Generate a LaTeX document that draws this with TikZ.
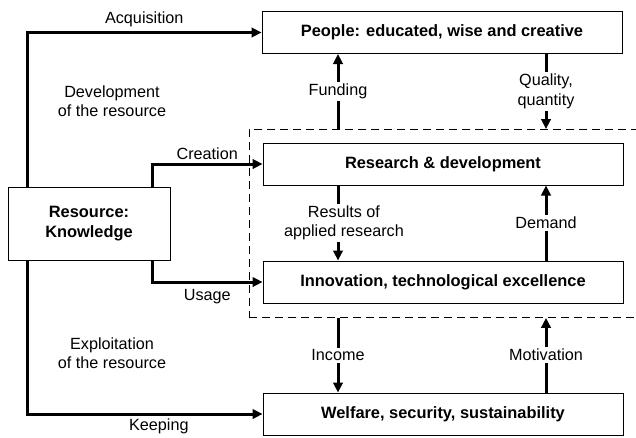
\documentclass[tikz,border=0pt]{standalone}
\usepackage{fontspec}
\setmainfont{Liberation Sans}
\usetikzlibrary{positioning, arrows.meta, calc}

\begin{document}
\begin{tikzpicture}[
    x=1pt, y=-1pt, % work in points, y pointing down
    every node/.style={font=\fontsize{16.2}{19.5}\selectfont, align=center},
    block/.style={draw, line width=1pt, minimum width=360pt, minimum height=42pt,
        font=\fontsize{16.4}{19.5}\selectfont\bfseries},
    flow/.style={line width=3pt, -{Triangle[length=10pt, width=9.5pt]}},
    lbl/.style={fill=white, inner sep=2pt}
]
    \useasboundingbox (0,0) rectangle (636,437);

    % Place the nodes
    \node[block] (people) at (442,32.5) {People: educated, wise and creative};
    \node[block] (rd) at (443,164) {Research \& development};
    \node[block] (innov) at (443,282) {Innovation, technological excellence};
    \node[block] (welfare) at (443,414) {Welfare, security, sustainability};
    \node[block, minimum width=162pt, minimum height=73pt] (res) at (89,223.5) {Resource:\\Knowledge};

    % dashed frame round R&D and innovation (open to the right)
    \node[draw, dashed, dash pattern=on 8pt off 5pt, line width=0.9pt,
        minimum width=400pt, minimum height=188pt, anchor=north west] (core) at (249,129) {};

    % columns of the connectors
    \coordinate (kx) at (27,0);
    \coordinate (cx) at (152,0);
    \coordinate (lx) at (338,0);
    \coordinate (rx) at (546,0);

    % free texts
    \node (dev) at (112,101) {Development\\of the resource};
    \node (expl) at (112,353) {Exploitation\\of the resource};

    % Draw the edges with labels
    \draw[flow] (res.north -| kx) |- node[pos=0.75, above, yshift=1pt] {Acquisition} (people.west);
    \draw[flow] (res.north -| cx) |- node[pos=0.75, above] {Creation} (rd.west);
    \draw[flow] (res.south -| cx) |- node[pos=0.75, below, yshift=-3pt] {Usage} (innov.west);
    \draw[flow] (res.south -| kx) |- node[pos=0.78, below, inner sep=1pt, yshift=-2.5pt] {Keeping} (welfare.west);

    \draw[flow] (core.north -| lx) -- node[lbl] {Funding} (people.south -| lx);
    \draw[flow] (people.south -| rx) -- node[lbl] {Quality,\\quantity} (core.north -| rx);
    \draw[flow] (rd.south -| lx) -- node[lbl, xshift=6pt] {Results of\\applied research} (innov.north -| lx);
    \draw[flow] (innov.north -| rx) -- node[lbl] {Demand} (rd.south -| rx);
    \draw[flow] (core.south -| lx) -- node[lbl] {Income} (welfare.north -| lx);
    \draw[flow] (welfare.north -| rx) -- node[lbl] {Motivation} (core.south -| rx);
\end{tikzpicture}
\end{document}
